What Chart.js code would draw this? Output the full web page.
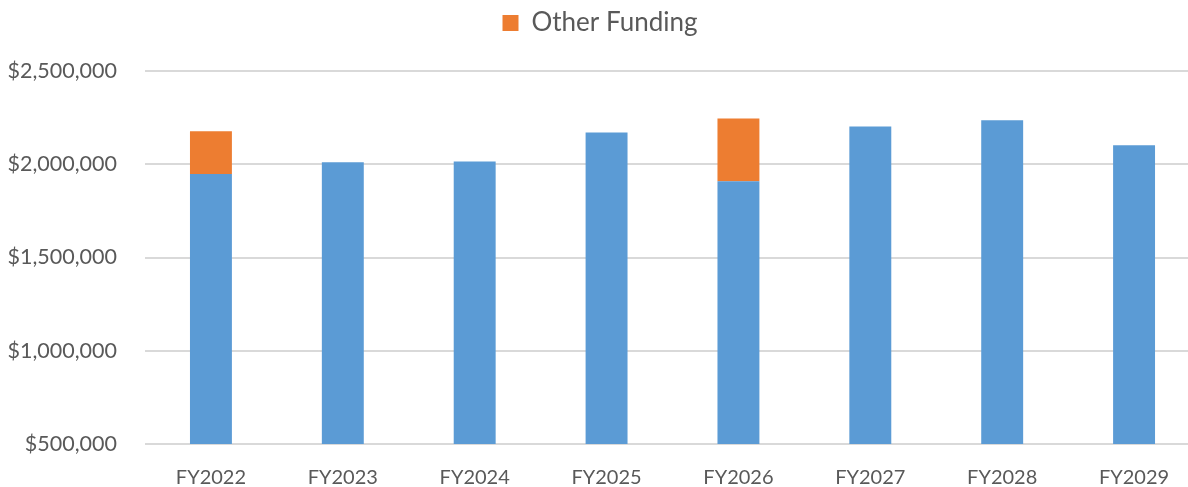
<!DOCTYPE html>
<html>
<head>
<meta charset="utf-8">
<script src="https://cdn.jsdelivr.net/npm/chart.js@4/dist/chart.umd.min.js"></script>
<style>
  html, body { margin: 0; padding: 0; background: #fff; overflow: hidden; }
  #wrap { width: 1188px; height: 487px; overflow: hidden; }
</style>
</head>
<body>
<div id="wrap"><canvas id="chart" width="1200" height="487"></canvas></div>
<script>
const years = ["FY2022", "FY2023", "FY2024", "FY2025", "FY2026", "FY2027", "FY2028", "FY2029"];
const baseFunding = [1948000, 2011000, 2015000, 2170000, 1909000, 2202000, 2236000, 2102000];
const otherFunding = [229000, 0, 0, 0, 336000, 0, 0, 0];
const yTicks = [500000, 1000000, 1500000, 2000000, 2500000];

const textColor = "#595959";
const font = "Lato, 'Open Sans', sans-serif";

// pin the legend band height so the plot starts where the reference does
const legendHeight = {
    id: "legendHeight",
    afterInit(chart) {
        const lg = chart.legend;
        if (!lg) return;
        const fit = lg.fit.bind(lg);
        lg.fit = function () {
            fit();
            this.height = 71;
        };
    }
};

new Chart(document.getElementById("chart").getContext("2d"), {
    type: "bar",
    data: {
        labels: years,
        datasets: [
            {
                label: "Base Funding",
                data: baseFunding,
                backgroundColor: "#5B9BD5",
                categoryPercentage: 1,
                barPercentage: 0.318
            },
            {
                label: "Other Funding",
                data: otherFunding,
                backgroundColor: "#ED7D31",
                categoryPercentage: 1,
                barPercentage: 0.318
            }
        ]
    },
    options: {
        responsive: false,
        animation: false,
        devicePixelRatio: 1,
        layout: { padding: 0 },
        plugins: {
            tooltip: { enabled: false },
            legend: {
                position: "top",
                labels: {
                    filter: item => item.text === "Other Funding",
                    boxWidth: 16,
                    boxHeight: 16,
                    padding: 10,
                    color: textColor,
                    font: { family: font, size: 26 }
                }
            }
        },
        scales: {
            x: {
                stacked: true,
                grid: { display: false },
                border: { display: false },
                ticks: {
                    color: textColor,
                    font: { family: font, size: 20 },
                    padding: 14
                },
                afterFit(scale) { scale.height = 43; }
            },
            y: {
                stacked: true,
                min: yTicks[0],
                max: yTicks[yTicks.length - 1],
                afterBuildTicks(scale) {
                    scale.ticks = yTicks.map(v => ({ value: v }));
                },
                grid: { color: "#D9D9D9", lineWidth: 2, drawTicks: false },
                border: { display: false },
                ticks: {
                    color: textColor,
                    font: { family: font, size: 21.5 },
                    padding: 28,
                    callback: v => "$" + Number(v).toLocaleString("en-US")
                },
                afterFit(scale) { scale.width = 145; }
            }
        }
    },
    plugins: [legendHeight]
});
</script>
</body>
</html>
